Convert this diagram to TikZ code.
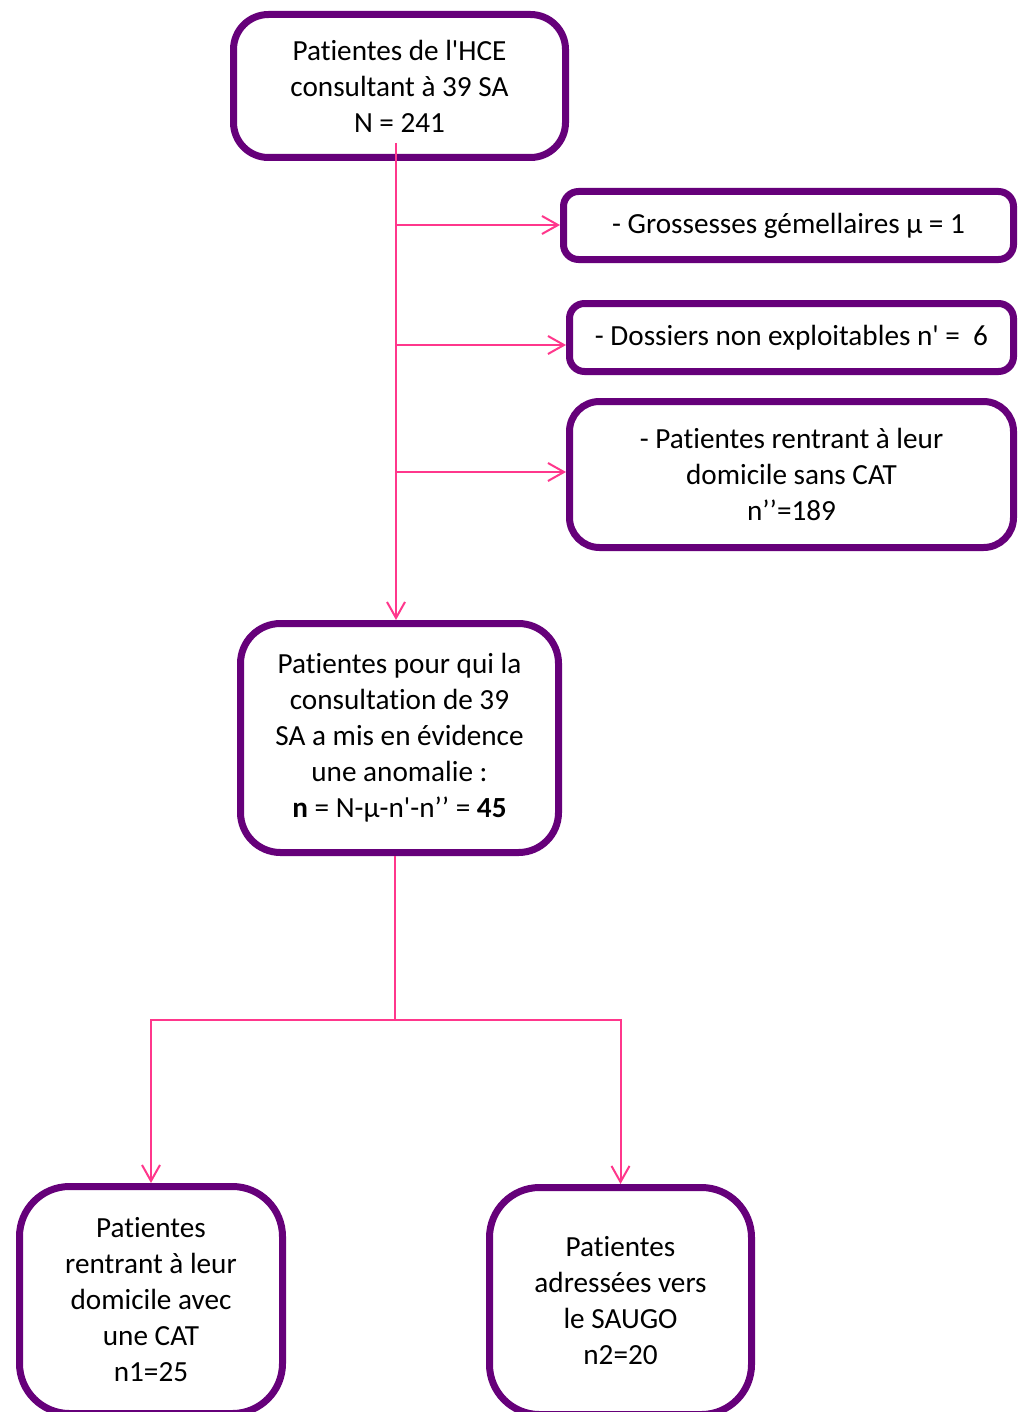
\documentclass[tikz,border=0pt]{standalone}
\usepackage{fontspec}
\setmainfont{Carlito}[Ligatures={NoCommon,NoRare,NoContextual},RawFeature={-liga;-clig;-dlig;-calt}]
\usetikzlibrary{arrows.meta}
\definecolor{boxpurple}{RGB}{102,0,122}
\definecolor{linkpink}{RGB}{255,55,140}
\newcommand{\sq}{\textquotesingle}
\tikzset{
  flowbox/.style={draw=boxpurple, line width=3.5pt, fill=white, align=center,
    inner sep=0pt, font=\fontsize{14.6}{18}\selectfont},
  link/.style={draw=linkpink, line width=1pt},
  arr/.style={link, -{Straight Barb[length=8pt,width=9pt,line width=1pt]}}
}
\begin{document}
\begin{tikzpicture}[x=0.5pt,y=-0.5pt]
\useasboundingbox (0,0) rectangle (1022,1412);
\fill[white] (0,0) rectangle (1022,1412);

\node[flowbox, minimum width=166pt, minimum height=71.5pt, rounded corners=17.5pt] (b1) at (399.5,86)
  {Patientes de l\sq HCE\\consultant à 39 SA\\N = 241};
\node[flowbox, minimum width=225pt, minimum height=34pt, rounded corners=7.5pt] (b2) at (788.5,225.5)
  {- Grossesses gémellaires µ = 1};
\node[flowbox, minimum width=222pt, minimum height=34pt, rounded corners=7.5pt] (b3) at (791.5,337.5)
  {- Dossiers non exploitables n\sq\ =\ \ 6};
\node[flowbox, minimum width=222pt, minimum height=73pt, rounded corners=15pt] (b4) at (791.5,474.5)
  {- Patientes rentrant à leur\\domicile sans CAT\\n’’=189};
\node[flowbox, minimum width=159pt, minimum height=114.5pt, rounded corners=20pt] (b5) at (399.5,738)
  {Patientes pour qui la\\consultation de 39\\SA a mis en évidence\\une anomalie :\\\textbf{n} = N-µ-n\sq-n’’ = \textbf{45}};
\node[flowbox, minimum width=131.5pt, minimum height=113.5pt, rounded corners=25pt] (b6) at (151,1300)
  {Patientes\\rentrant à leur\\domicile avec\\une CAT\\n1=25};
\node[flowbox, minimum width=131pt, minimum height=113.5pt, rounded corners=25pt] (b7) at (620.5,1301)
  {Patientes\\adressées vers\\le SAUGO\\n2=20};

% trunk from top box
\coordinate (top) at (396,143);
\coordinate (t2) at (396,225);
\coordinate (t3) at (396,345);
\coordinate (t4) at (396,472);
\draw[arr] (top) -- (top |- b5.north);
\draw[arr] (t2) -- (t2 -| b2.west);
\draw[arr] (t3) -- (t3 -| b3.west);
\draw[arr] (t4) -- (t4 -| b4.west);

% lower split
\coordinate (j) at (395,1020);
\draw[link] (j |- b5.south) -- (j);
\draw[arr] (j) -| (b6.north);
\draw[arr] (j) -| (b7.north);
\end{tikzpicture}
\end{document}
